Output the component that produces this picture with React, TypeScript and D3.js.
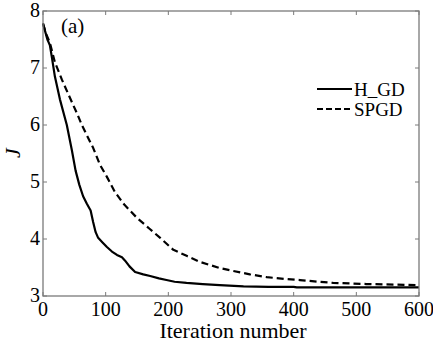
import React from 'react';
import * as d3 from 'd3';

// Iteration / J values
const hgdIter = [0, 4, 7, 9, 11, 14, 19, 27, 38, 46, 52, 58, 64, 70, 76, 80, 84, 88, 95, 102, 110, 118, 126, 131, 138, 147, 160, 171, 185, 197, 210, 229, 255, 282, 320, 360, 400, 405, 500, 600];
const hgdJ = [7.78, 7.62, 7.5, 7.45, 7.4, 7.2, 6.85, 6.45, 6.0, 5.56, 5.2, 4.95, 4.75, 4.62, 4.5, 4.3, 4.12, 4.02, 3.94, 3.86, 3.78, 3.72, 3.68, 3.62, 3.52, 3.42, 3.38, 3.35, 3.31, 3.28, 3.25, 3.23, 3.21, 3.19, 3.17, 3.16, 3.16, 3.15, 3.15, 3.15];

const spgdIter = [0, 5, 11, 19, 30, 40, 54, 62, 70, 80, 91, 102, 115, 130, 150, 170, 187, 208, 230, 250, 282, 303, 330, 357, 385, 410, 440, 463, 490, 516, 560, 600];
const spgdJ = [7.78, 7.6, 7.44, 7.1, 6.8, 6.55, 6.21, 6.0, 5.82, 5.6, 5.3, 5.09, 4.82, 4.6, 4.37, 4.18, 4.02, 3.81, 3.7, 3.6, 3.49, 3.44, 3.38, 3.33, 3.3, 3.28, 3.25, 3.23, 3.22, 3.21, 3.2, 3.19];

const xTicks = [0, 100, 200, 300, 400, 500, 600];
const yTicks = [3, 4, 5, 6, 7, 8];

const series = [
  { name: 'H_GD', iter: hgdIter, j: hgdJ, dash: null },
  { name: 'SPGD', iter: spgdIter, j: spgdJ, dash: '7,4' },
];

export default function App() {
  const width = 433;
  const height = 342;
  const margin = { top: 11, right: 14, bottom: 46, left: 43 };
  const x0 = margin.left;
  const x1 = width - margin.right;
  const y0 = height - margin.bottom;
  const y1 = margin.top;

  const xScale = d3.scaleLinear().domain([0, 600]).range([x0, x1]);
  const yScale = d3.scaleLinear().domain([3, 8]).range([y0, y1]);

  const line = d3.line<[number, number]>()
    .x(d => xScale(d[0]))
    .y(d => yScale(d[1]));

  const axisColor = '#7a7a7a';
  const tick = 4;

  return (
    <svg
      width={width}
      height={height}
      fontFamily="Liberation Serif"
      style={{ position: 'absolute', left: 0, top: 0, background: '#fff', fontFamily: '"Liberation Serif"' }}
    >
      <rect x={0} y={0} width={width} height={height} fill="#fff" />

      {/* Lines */}
      {series.map(s => (
        <path
          key={s.name}
          d={line(s.iter.map((v, i) => [v, s.j[i]] as [number, number])) || ''}
          fill="none"
          stroke="#000"
          strokeWidth={2.2}
          strokeDasharray={s.dash || undefined}
          strokeLinejoin="round"
        />
      ))}

      {/* Frame */}
      <rect x={x0} y={y1} width={x1 - x0} height={y0 - y1} fill="none" stroke={axisColor} strokeWidth={1.3} />

      {/* X ticks */}
      {xTicks.map(t => (
        <g key={`x${t}`}>
          <line x1={xScale(t)} x2={xScale(t)} y1={y0} y2={y0 - tick} stroke={axisColor} />
          <line x1={xScale(t)} x2={xScale(t)} y1={y1} y2={y1 + tick} stroke={axisColor} />
          <text x={xScale(t)} y={y0 + 20} textAnchor="middle" style={{ fontFamily: '"Liberation Serif"', fontSize: 20 }}>{t}</text>
        </g>
      ))}

      {/* Y ticks */}
      {yTicks.map(t => (
        <g key={`y${t}`}>
          <line x1={x0} x2={x0 + tick} y1={yScale(t)} y2={yScale(t)} stroke={axisColor} />
          <line x1={x1} x2={x1 - tick} y1={yScale(t)} y2={yScale(t)} stroke={axisColor} />
          <text x={x0 - 3} y={yScale(t) + 6} textAnchor="end" style={{ fontFamily: '"Liberation Serif"', fontSize: 20 }}>{t}</text>
        </g>
      ))}

      {/* Axis labels */}
      <text x={233} y={338} textAnchor="middle" style={{ fontFamily: '"Liberation Serif"', fontSize: 22 }}>Iteration number</text>
      <text transform="translate(20,153) rotate(-90)" textAnchor="middle" style={{ fontFamily: '"Liberation Serif"', fontSize: 22, fontStyle: 'italic' }}>J</text>

      {/* Panel tag */}
      <text x={61} y={33} style={{ fontFamily: '"Liberation Serif"', fontSize: 21 }}>(a)</text>

      {/* Legend */}
      {series.map((s, i) => (
        <g key={`lg${s.name}`} transform={`translate(317,${89 + i * 20})`}>
          <line x1={0} x2={35} y1={0} y2={0} stroke="#000" strokeWidth={2} strokeDasharray={s.dash ? '6,3' : undefined} />
          <text x={37} y={7} style={{ fontFamily: '"Liberation Serif"', fontSize: 19 }}>{s.name}</text>
        </g>
      ))}
    </svg>
  );
}
